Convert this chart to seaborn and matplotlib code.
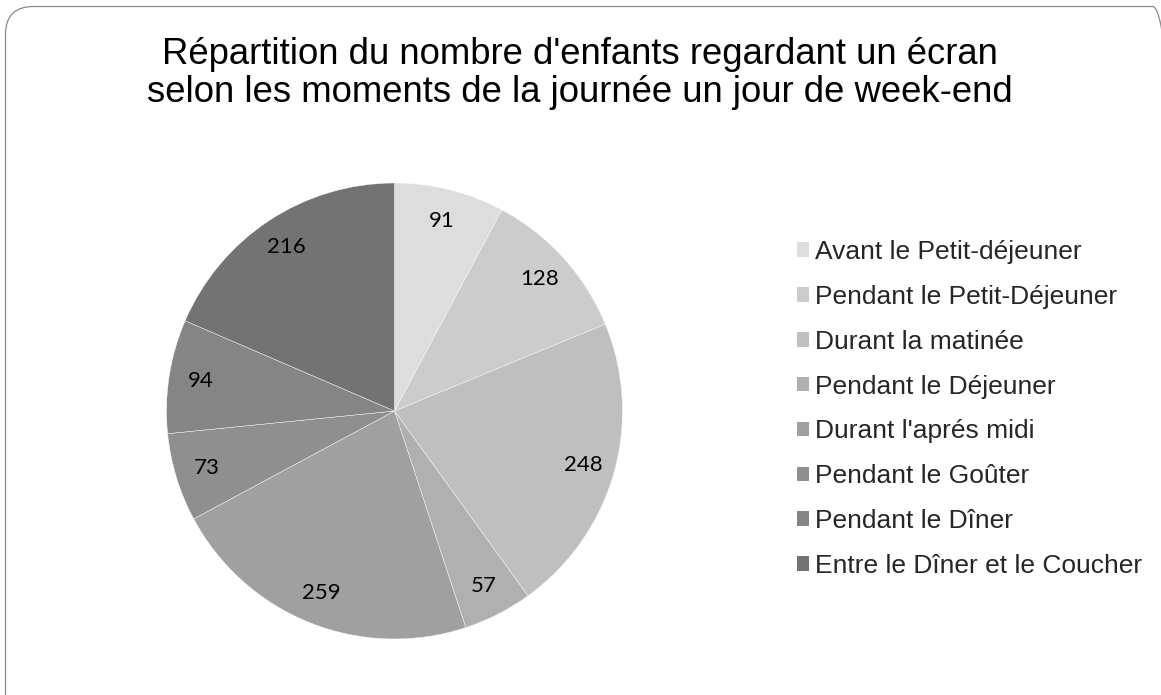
import matplotlib
matplotlib.use("Agg")
import matplotlib.pyplot as plt
import seaborn as sns
from matplotlib.patches import FancyBboxPatch, Patch
from matplotlib.transforms import IdentityTransform

categories = ["Avant le Petit-déjeuner", "Pendant le Petit-Déjeuner", "Durant la matinée",
              "Pendant le Déjeuner", "Durant l'aprés midi", "Pendant le Goûter",
              "Pendant le Dîner", "Entre le Dîner et le Coucher"]
values = [91, 128, 248, 57, 259, 73, 94, 216]
colors = ["#dddddd", "#cccccc", "#bfbfbf", "#b0b0b0", "#a0a0a0", "#8f8f8f", "#858585", "#737373"]
title = "Répartition du nombre d'enfants regardant un écran\nselon les moments de la journée un jour de week-end"

sns.set_theme(style="white")
plt.rcParams["font.family"] = ["Liberation Sans", "DejaVu Sans"]

W, H = 1161, 695
fig = plt.figure(figsize=(W / 100, H / 100), dpi=100)
fig.patch.set_facecolor("white")

# rounded frame
frame = FancyBboxPatch((5.5, -30), 1175, 688 - (-30) + 0.5,
                       boxstyle="round,pad=0,rounding_size=28",
                       transform=IdentityTransform(), facecolor="none",
                       edgecolor="#8a8a8a", linewidth=0.9)
fig.patches.append(frame)

cx, cy, r = 394.5, 411, 228
ax = fig.add_axes([(cx - r) / W, (H - cy - r) / H, 2 * r / W, 2 * r / H])
wedges, _, autotexts = ax.pie(values, colors=colors, startangle=90, counterclock=False,
                              autopct=lambda p: "{:d}".format(int(round(p * sum(values) / 100))),
                              pctdistance=0.86, radius=1,
                              wedgeprops=dict(edgecolor="white", linewidth=0.3),
                              textprops=dict(fontsize=16, family=["Lato", "DejaVu Sans"], color="black"))
ax.set_xlim(-1, 1)
ax.set_ylim(-1, 1)
ax.set_aspect("equal")
ax.axis("off")

fig.text(580 / W, 1 - 102 / H, title, ha="center", va="baseline", fontsize=26.3,
         linespacing=1.1, color="black")

handles = [Patch(facecolor=c, edgecolor="none") for c in colors]
fig.legend(handles, categories, loc="center left", bbox_to_anchor=(797 / W, 1 - 409 / H),
           frameon=False, fontsize=19, handlelength=0.47, handleheight=0.47,
           handletextpad=0.23, labelspacing=0.79, borderpad=0, borderaxespad=0)

fig.savefig("out.png", dpi=100, facecolor="white")
